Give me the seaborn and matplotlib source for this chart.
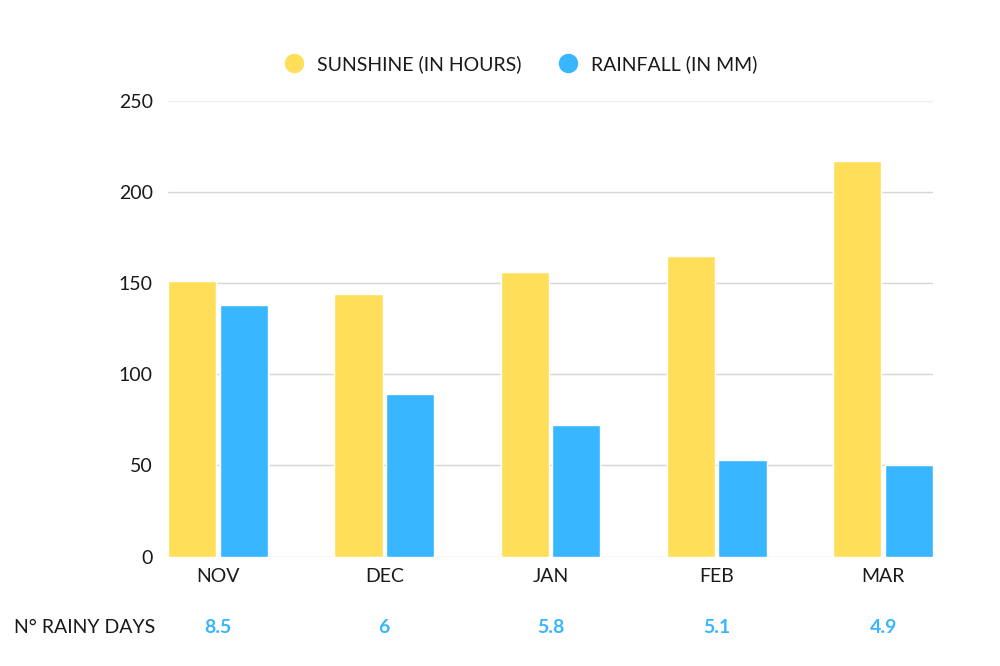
import pandas as pd
import matplotlib.pyplot as plt
import matplotlib.transforms as mtransforms
from matplotlib.lines import Line2D
import seaborn as sns

# data
months = ["NOV", "DEC", "JAN", "FEB", "MAR"]
sunshine = [151, 144, 156, 165, 217]
rainfall = [138, 89, 72, 53, 50]
rainy_days = ["8.5", "6", "5.8", "5.1", "4.9"]
series = ["SUNSHINE (IN HOURS)", "RAINFALL (IN MM)"]
colors = ["#FFDE59", "#38B6FF"]

df = pd.DataFrame({
    "month": months * 2,
    "value": sunshine + rainfall,
    "series": [series[0]] * len(months) + [series[1]] * len(months),
})

sns.set_theme(style="white")
plt.rcParams['font.family'] = ['Lato', 'DejaVu Sans']
text_col = "#1a1a1a"

fig = plt.figure(figsize=(10, 6.66), dpi=100)
ax = fig.add_axes([0.168, 0.1643, 0.765, 0.6840])

sns.barplot(data=df, x="month", y="value", hue="series", order=months,
            hue_order=series, palette=colors, width=0.62, gap=0.065,
            saturation=1, legend=False, ax=ax)

ax.set_xlim(-0.3, len(months) - 0.7)
ax.set_ylim(0, 250)
ax.set_yticks(range(0, 251, 50))
ax.set_axisbelow(True)
ax.yaxis.grid(True, color="#d6d6d6", linewidth=1)
ax.get_ygridlines()[-1].set_color("#eeeeee")
for s in ax.spines.values():
    s.set_visible(False)
ax.set_xlabel("")
ax.set_ylabel("")
ax.tick_params(axis="y", length=0, pad=11, labelsize=14, labelcolor=text_col)
ax.tick_params(axis="x", length=0, pad=8, labelsize=14, labelcolor=text_col)

# rainy days row under the axis
trans = mtransforms.blended_transform_factory(ax.transData, fig.transFigure)
for i, v in enumerate(rainy_days):
    ax.text(i, 0.058, v, transform=trans, ha="center", va="center",
            fontsize=14, fontweight="bold", color=colors[1])
fig.text(0.014, 0.058, "N° RAINY DAYS", ha="left", va="center",
         fontsize=14, color=text_col)

handles = [Line2D([], [], marker="o", linestyle="", markersize=13,
                  markerfacecolor=c, markeredgecolor=c) for c in colors]
fig.legend(handles, series, loc="center", bbox_to_anchor=(0.516, 0.904),
           ncol=2, frameon=False, fontsize=14, handletextpad=0.2,
           columnspacing=1.4, labelcolor=text_col)

fig.savefig("out.png", dpi=100, facecolor="white")
